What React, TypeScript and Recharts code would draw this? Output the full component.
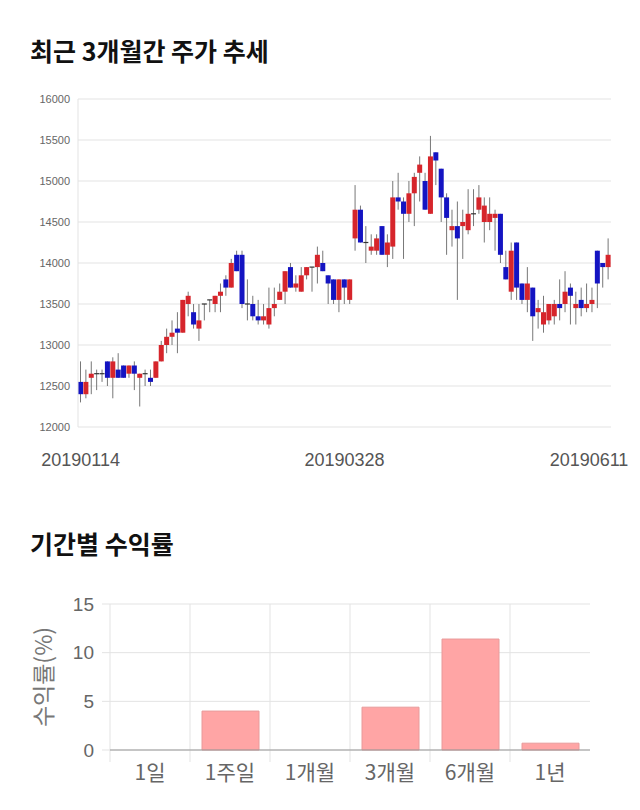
import React from "react";
import { ComposedChart, BarChart, Bar, XAxis, YAxis, CartesianGrid } from "recharts";

// ---- daily candles, 20190114 .. 20190611 ----
const OPEN = [
  12550, 12400, 12600, 12650, 12650, 12800, 12600, 12700, 12750, 12650,
  12750, 12600, 12650, 12600, 12600, 12800, 13000, 13100, 13200, 13150,
  13500, 13400, 13200, 13500, 13550, 13500, 13600, 13800, 13700, 14100,
  14100, 13500, 13500, 13350, 13300, 13250, 13450, 13550, 13650, 13950,
  13700, 13650, 13850, 13950, 13950, 14000, 13850, 13800, 13550, 13800,
  13550, 14300, 14650, 14250, 14150, 14150, 14450, 14100, 14200, 14800,
  14750, 14600, 14850, 15100, 15000, 14600, 15350, 15150, 14800, 14400,
  14450, 14450, 14400, 14600, 14650, 14500, 14500, 14550, 14600, 13950,
  13650, 14250, 13750, 13550, 13700, 13400, 13250, 13300, 13350, 13500,
  13500, 13700, 13450, 13550, 13450, 13500, 14150, 14000, 13950,
];
const HIGH = [
  12800, 12700, 12800, 12700, 12700, 12800, 12850, 12900, 12750, 12750,
  12800, 12650, 12700, 12700, 12800, 13050, 13200, 13300, 13400, 13550,
  13650, 13500, 13500, 13500, 13550, 13600, 13750, 13850, 14050, 14150,
  14150, 13800, 13600, 13550, 13500, 13700, 13700, 13750, 13900, 14000,
  13850, 13950, 13950, 13950, 14200, 14150, 13850, 13800, 13800, 13800,
  13800, 14950, 14700, 14450, 14350, 14350, 14450, 14350, 15000, 15100,
  14800, 15000, 15100, 15300, 15100, 15550, 15350, 15150, 14850, 14650,
  14750, 14650, 14900, 14900, 14950, 14800, 14800, 14650, 14600, 14150,
  14250, 14250, 13750, 13950, 13700, 13550, 13600, 13500, 13550, 13800,
  13900, 13750, 13650, 13700, 13750, 13700, 14150, 14000, 14300,
];
const LOW = [
  12300, 12350, 12400, 12450, 12550, 12500, 12350, 12600, 12600, 12600,
  12450, 12250, 12500, 12500, 12600, 12800, 12900, 13000, 12900, 13150,
  13350, 13200, 13050, 13300, 13400, 13400, 13400, 13600, 13700, 13900,
  13450, 13300, 13300, 13250, 13250, 13200, 13350, 13550, 13500, 13700,
  13650, 13650, 13800, 13650, 13750, 13900, 13500, 13500, 13400, 13500,
  13500, 14150, 14250, 14000, 14100, 14100, 14100, 13950, 14050, 14650,
  14050, 14500, 14450, 14750, 14650, 14600, 14950, 14500, 14100, 14200,
  13550, 14050, 14350, 14450, 14600, 14250, 14400, 14150, 14000, 13800,
  13550, 13550, 13500, 13400, 13050, 13200, 13150, 13250, 13250, 13300,
  13400, 13250, 13250, 13350, 13400, 13400, 13450, 13700, 13800,
];
const CLOSE = [
  12400, 12550, 12650, 12650, 12650, 12600, 12800, 12600, 12600, 12750,
  12650, 12650, 12650, 12550, 12800, 13000, 13100, 13150, 13150, 13550,
  13600, 13250, 13300, 13500, 13550, 13600, 13650, 13700, 14000, 13900,
  13500, 13500, 13350, 13300, 13350, 13450, 13500, 13650, 13900, 13700,
  13750, 13850, 13950, 13950, 14100, 13900, 13750, 13550, 13800, 13700,
  13800, 14650, 14250, 14250, 14200, 14300, 14100, 14250, 14800, 14750,
  14600, 14850, 15050, 15200, 14650, 15300, 15250, 14800, 14550, 14450,
  14300, 14500, 14600, 14600, 14800, 14700, 14600, 14600, 14100, 13800,
  14150, 13700, 13550, 13750, 13350, 13450, 13400, 13500, 13500, 13450,
  13650, 13600, 13500, 13450, 13500, 13550, 13750, 13950, 14100,
];
const DATE_TICK_INDEX = [0, 49, 98];
const DATE_TICK_LABELS = ["20190114", "20190328", "20190611"];
const PRICE_TICKS = [12000, 12500, 13000, 13500, 14000, 14500, 15000, 15500, 16000];

// ---- period returns ----
const PERIODS = ["1일", "1주일", "1개월", "3개월", "6개월", "1년"];
const RETURNS = [0, 4.0, 0, 4.4, 11.4, 0.7];
const RETURN_TICKS = [0, 5, 10, 15];

const UP = "#d6252b";
const DOWN = "#1414c2";
const WICK = "#777777";
const GRID = "#e3e3e3";
const KR_FONT = "'Noto Sans CJK KR', 'Noto Sans', sans-serif";
const NUM_FONT = "'Liberation Sans', Arial, sans-serif";

const candles = OPEN.map((o, i) => ({
  idx: i,
  open: o,
  high: HIGH[i],
  low: LOW[i],
  close: CLOSE[i],
}));

const returns = PERIODS.map((p, i) => ({ period: p, value: RETURNS[i] }));

function Candle(props: any) {
  const { x, y, width, height, payload } = props;
  if (!payload || height == null) return null;
  const { open, close, high, low } = payload;
  const top = Math.min(y, y + height);
  const h = Math.abs(height);
  const ratio = h / (high - low);
  const yOf = (v: number) => top + (high - v) * ratio;
  const cx = x + width / 2;
  const bodyTop = yOf(Math.max(open, close));
  const bodyBot = yOf(Math.min(open, close));
  const color = close > open ? UP : close < open ? DOWN : "#333";
  return (
    <g>
      <line x1={cx} x2={cx} y1={top} y2={top + h} stroke={WICK} strokeWidth={1} />
      {close === open ? (
        <line x1={x} x2={x + width} y1={bodyTop} y2={bodyTop} stroke={color} strokeWidth={1.2} />
      ) : (
        <rect x={x} y={bodyTop} width={width} height={Math.max(1, bodyBot - bodyTop)} fill={color} />
      )}
    </g>
  );
}

function DateTick(props: any) {
  const { x, y, payload } = props;
  const k = DATE_TICK_INDEX.indexOf(payload.value);
  if (k < 0) return null;
  const cx = Math.max(79, Math.min(x, 589));
  return (
    <text x={cx} y={y} dy={31} textAnchor="middle" fill="#555" fontSize={18} fontFamily={NUM_FONT}>
      {DATE_TICK_LABELS[k]}
    </text>
  );
}

const titleStyle: React.CSSProperties = {
  position: "absolute",
  left: 30,
  fontFamily: KR_FONT,
  fontWeight: 700,
  fontSize: 25,
  lineHeight: "30px",
  color: "#111",
  margin: 0,
  whiteSpace: "nowrap",
};

export default function App() {
  return (
    <div style={{ position: "absolute", left: 0, top: 0, width: 640, height: 810, background: "#fff" }}>
      <div style={{ ...titleStyle, top: 35 }}>최근 3개월간 주가 추세</div>

      <div style={{ position: "absolute", left: 0, top: 0 }}>
        <ComposedChart
          width={640}
          height={480}
          data={candles}
          margin={{ top: 99, right: 29, left: 0, bottom: 0 }}
        >
          <CartesianGrid vertical={false} stroke={GRID} />
          <XAxis
            dataKey="idx"
            type="category"
            height={53}
            ticks={DATE_TICK_INDEX}
            interval={0}
            tick={<DateTick />}
            axisLine={false}
            tickLine={false}
          />
          <YAxis
            width={78}
            domain={[12000, 16000]}
            ticks={PRICE_TICKS}
            interval={0}
            tickLine={false}
            axisLine={{ stroke: GRID }}
            tick={{ fontSize: 11, fill: "#666", fontFamily: NUM_FONT }}
          />
          <Bar
            dataKey={(d: any) => [d.low, d.high]}
            barSize={5}
            shape={<Candle />}
            isAnimationActive={false}
          />
        </ComposedChart>
      </div>

      <div style={{ ...titleStyle, top: 528 }}>기간별 수익률</div>

      <div style={{ position: "absolute", left: 0, top: 580 }}>
        <BarChart
          width={640}
          height={230}
          data={returns}
          margin={{ top: 24, right: 50, left: 0, bottom: 0 }}
        >
          <CartesianGrid
            stroke={GRID}
            verticalCoordinatesGenerator={({ offset }: any) =>
              PERIODS.map((_, i) => offset.left + (i * offset.width) / PERIODS.length)
            }
            vertical={(p: any) => (
              <line key={p.key} x1={p.x1} x2={p.x2} y1={p.y1} y2={p.y2 + 12} stroke={GRID} />
            )}
            horizontal={(p: any) => (
              <line key={p.key} x1={p.x1 - 8} x2={p.x2} y1={p.y1} y2={p.y2} stroke={GRID} />
            )}
          />
          <XAxis
            dataKey="period"
            height={60}
            axisLine={{ stroke: "#999" }}
            tickLine={false}
            tick={{ fontSize: 21, fill: "#666", fontFamily: KR_FONT }}
            tickMargin={9}
          />
          <YAxis
            width={110}
            domain={[0, 15]}
            ticks={RETURN_TICKS}
            interval={0}
            axisLine={false}
            tickLine={false}
            tickMargin={10}
            tick={{ fontSize: 19, fill: "#666", fontFamily: NUM_FONT }}
            label={{
              value: "수익률(%)",
              angle: -90,
              position: "insideLeft",
              offset: 44,
              style: { fontSize: 23, fill: "#777", fontFamily: KR_FONT, textAnchor: "middle" },
            }}
          />
          <Bar
            dataKey="value"
            barSize={57}
            fill="#ffa5a5"
            stroke="#e89a9a"
            strokeWidth={1}
            isAnimationActive={false}
          />
        </BarChart>
      </div>
    </div>
  );
}
